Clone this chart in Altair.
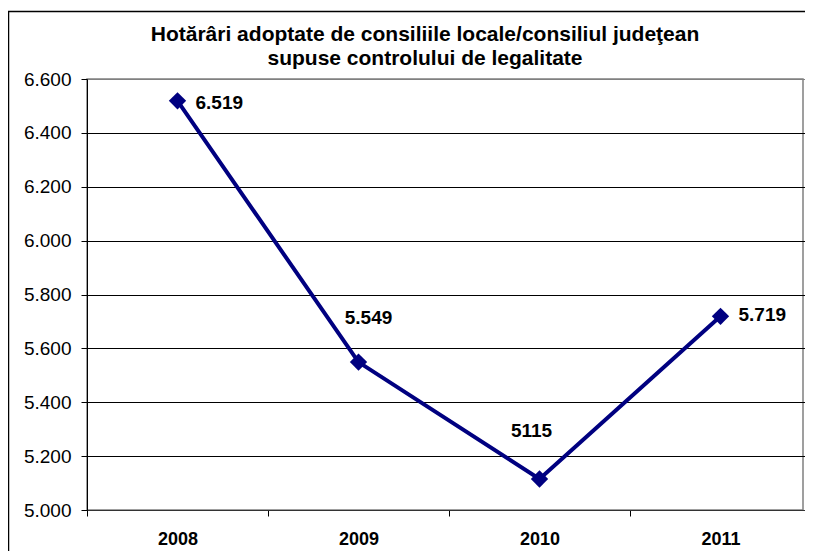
import altair as alt
import pandas as pd

years = ["2008", "2009", "2010", "2011"]
values = [6519, 5549, 5115, 5719]
labels = ["6.519", "5.549", "5115", "5.719"]
y_ticks = [5000, 5200, 5400, 5600, 5800, 6000, 6200, 6400, 6600]
title_lines = ["Hotărâri adoptate de consiliile locale/consiliul judeţean",
               "supuse controlului de legalitate"]

df = pd.DataFrame({"year": years, "value": values, "label": labels})

W, H = 716, 431      # visible plot area (page is narrower than the original frame)
X_SPAN = 724         # full category span of the original plot
FONT = "Liberation Sans"
NAVY = "#000080"

x_enc = alt.X(
    "year:O",
    scale=alt.Scale(type="band", paddingInner=0, paddingOuter=0, range=[0, X_SPAN]),
    axis=alt.Axis(title=None, labelAngle=0, labelFontWeight="bold", labelFontSize=18,
                  labelColor="black", labelFont=FONT, labelPadding=14, tickBand="extent",
                  tickSize=6, tickColor="black", domainColor="#333333", grid=False),
)
y_enc = alt.Y(
    "value:Q",
    scale=alt.Scale(domain=[5000, 6600], nice=False, zero=False),
    axis=alt.Axis(title=None, values=y_ticks,
                  labelExpr="replace(format(datum.value, ','), ',', '.')",
                  labelFontSize=19, labelColor="black", labelFont=FONT, labelPadding=10,
                  tickSize=6, tickColor="black", domainColor="black", grid=True,
                  gridColor={"condition": {"test": "datum.value == 6600", "value": "#808080"},
                             "value": "black"}),
)

base = alt.Chart(df).encode(x=x_enc, y=y_enc)

line = base.mark_line(color=NAVY, strokeWidth=4)
pts = base.mark_point(shape="diamond", filled=True, size=300, color=NAVY, opacity=1)


def label_layer(year, align, dx, dy):
    return base.transform_filter(f"datum.year == '{year}'").mark_text(
        align=align, baseline="middle", dx=dx, dy=dy, fontSize=19, fontWeight="bold",
        font=FONT, color="black").encode(text="label:N")


texts = [
    label_layer("2008", "left", 18, 2),
    label_layer("2009", "center", 10, -44),
    label_layer("2010", "center", -8, -48),
    label_layer("2011", "left", 18, -1),
]

single = alt.Data(values=[{"f": 1}])

frame = alt.Chart(single).mark_rect(
    fill="transparent", stroke="black", strokeWidth=1.5, clip=False
).encode(x=alt.value(-78.5), x2=alt.value(W + 40), y=alt.value(-67.5), y2=alt.value(H + 80))

title = alt.Chart(single).mark_text(
    text=title_lines, font=FONT, fontSize=21, fontWeight="bold", color="black",
    align="center", baseline="alphabetic", lineHeight=24, clip=False
).encode(x=alt.value(338), y=alt.value(-38))

chart = alt.layer(frame, line, pts, *texts, title).properties(
    width=W, height=H,
    padding={"left": 79, "top": 71, "right": 2, "bottom": 41},
    autosize=alt.AutoSizeParams(type="none"),
).configure_view(stroke="#808080", strokeWidth=1.5)

chart.save("out.html", embed_options={"renderer": "svg", "actions": False})
